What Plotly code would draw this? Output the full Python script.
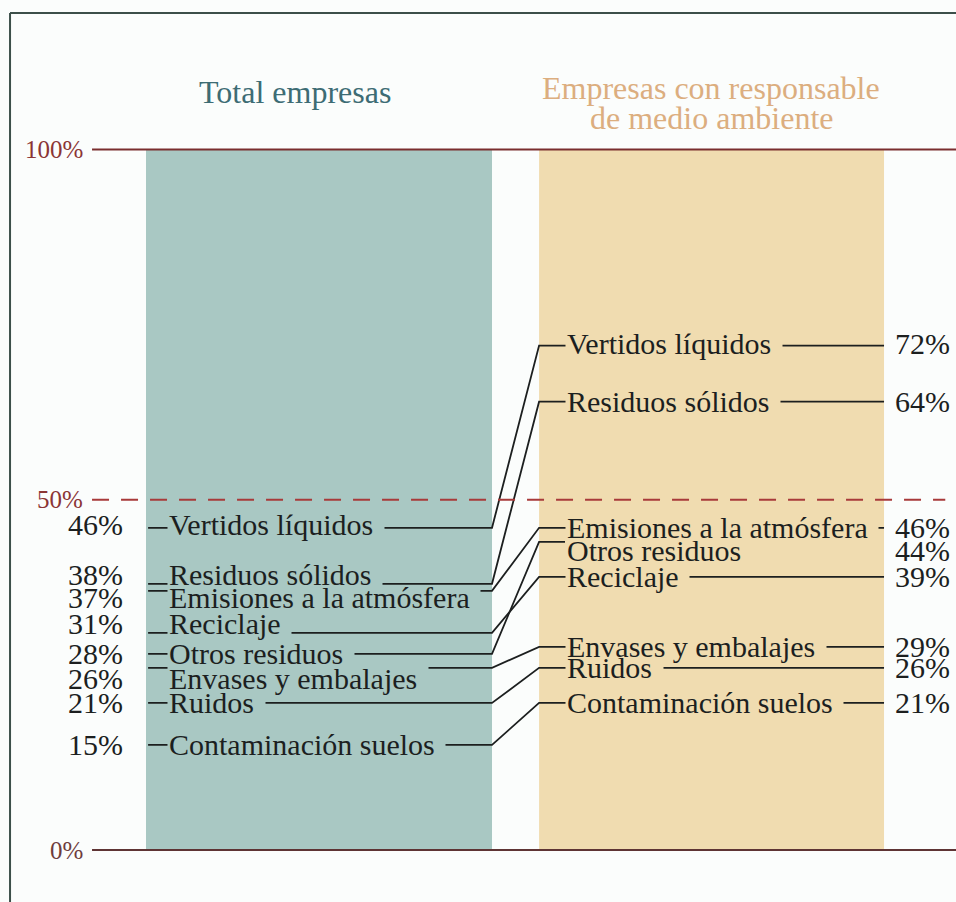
import plotly.graph_objects as go

# datos: % de empresas que actúan sobre cada aspecto ambiental
categorias = ["Vertidos líquidos", "Residuos sólidos", "Emisiones a la atmósfera",
              "Reciclaje", "Otros residuos", "Envases y embalajes", "Ruidos",
              "Contaminación suelos"]
total_empresas = [46, 38, 37, 31, 28, 26, 21, 15]
con_responsable = [72, 64, 46, 39, 44, 29, 26, 21]
columnas = ["Total empresas", "Empresas con responsable de medio ambiente"]
marcas_eje = [0, 50, 100]

# ajustes de maquetacion (solo para que los rotulos no se pisen)
desplaz_izq = [0.4, 1.3, -0.9, 1.4, 0, -1.45, 0, 0]
desplaz_der = [0.3, 0, 0, 0, -1.2, 0, 0, 0]
sin_linea_der = {"Otros residuos"}

SERIF = "Liberation Serif, Times New Roman, serif"
TEAL = "#a9c8c3"
TAN = "#f0dcb0"
FONDO = "#fbfdfc"
TINTA = "#1c1f1f"
ROJO = "#8b3535"

# columnas en unidades del eje x
c1 = (0.0, 1.0)
c2 = (1.136, 2.133)
x_txt_izq = 0.061
x_txt_der = 1.211

fig = go.Figure()

fig.add_trace(go.Bar(
    x=[(c1[0] + c1[1]) / 2, (c2[0] + c2[1]) / 2], y=[100, 100],
    width=[c1[1] - c1[0], c2[1] - c2[0]],
    marker=dict(color=[TEAL, TAN], line_width=0),
    hoverinfo="skip", showlegend=False))

for cat, vi, vd in zip(categorias, total_empresas, con_responsable):
    x_fin = x_txt_der if cat in sin_linea_der else c2[1]
    fig.add_trace(go.Scatter(
        x=[0.006, c1[1], c2[0], x_fin], y=[vi, vi, vd, vd],
        mode="lines", line=dict(color=TINTA, width=1.8),
        hoverinfo="skip", showlegend=False))

shapes = [
    dict(type="line", xref="x", yref="y", x0=-0.156, x1=2.345, y0=100, y1=100,
         line=dict(color="#7a2e2e", width=2)),
    dict(type="line", xref="x", yref="y", x0=-0.156, x1=2.345, y0=0, y1=0,
         line=dict(color="#5e3434", width=2.2)),
    dict(type="line", xref="x", yref="y", x0=-0.156, x1=2.31, y0=50, y1=50,
         line=dict(color="#a83a3a", width=2.2, dash="17px,12px")),
    # marco
    dict(type="line", xref="paper", yref="paper", x0=0.0105, x1=1, y0=1 - 13 / 902, y1=1 - 13 / 902,
         line=dict(color="#3c4f49", width=2)),
    dict(type="line", xref="paper", yref="paper", x0=0.0105, x1=0.0105, y0=0, y1=1 - 13 / 902,
         line=dict(color="#3c4f49", width=2)),
]

anns = []
fuente = dict(family=SERIF, size=30, color=TINTA)
transp = dict(family=SERIF, size=30, color="rgba(0,0,0,0)")

# mascaras para cortar las lineas detras de los rotulos
for cat, vi, vd in zip(categorias, total_empresas, con_responsable):
    anns.append(dict(x=x_txt_izq, y=vi, xref="x", yref="y", text=cat + "\u00a0",
                     font=transp, bgcolor=TEAL, borderpad=2, height=2,
                     xanchor="left", yanchor="middle", showarrow=False))
    anns.append(dict(x=x_txt_der, y=vd, xref="x", yref="y", text=cat + "\u00a0",
                     font=transp, bgcolor=TAN, borderpad=2, height=2,
                     xanchor="left", yanchor="middle", showarrow=False))

for i, (cat, vi, vd) in enumerate(zip(categorias, total_empresas, con_responsable)):
    yi = vi + desplaz_izq[i]
    yd = vd + desplaz_der[i]
    anns.append(dict(x=x_txt_izq, y=yi, text=cat, font=fuente,
                     xanchor="left", yanchor="middle", showarrow=False))
    anns.append(dict(x=-0.061, y=yi, text=f"{vi}%", font=fuente,
                     xanchor="right", yanchor="middle", showarrow=False))
    anns.append(dict(x=x_txt_der, y=yd, text=cat, font=fuente,
                     xanchor="left", yanchor="middle", showarrow=False))
    anns.append(dict(x=2.159, y=yd, text=f"{vd}%", font=fuente,
                     xanchor="left", yanchor="middle", showarrow=False))

for m in marcas_eje:
    anns.append(dict(x=-0.176, y=m, text=f"{m}%",
                     font=dict(family=SERIF, size=25, color=ROJO if m else "#6e3c3c"),
                     xanchor="right", yanchor="middle", showarrow=False))

anns.append(dict(x=0.43, y=108.2, text=columnas[0],
                 font=dict(family=SERIF, size=32, color="#3d6c74"),
                 xanchor="center", yanchor="middle", showarrow=False))
titulo2 = columnas[1].split(" de ")
anns.append(dict(x=1.634, y=108.8, text=titulo2[0],
                 font=dict(family=SERIF, size=32, color="#dcae7f"),
                 xanchor="center", yanchor="middle", showarrow=False))
anns.append(dict(x=1.634, y=104.5, text="de " + titulo2[1],
                 font=dict(family=SERIF, size=32, color="#dcae7f"),
                 xanchor="center", yanchor="middle", showarrow=False))

fig.update_layout(
    width=956, height=902,
    margin=dict(l=0, r=0, t=0, b=0),
    paper_bgcolor=FONDO, plot_bgcolor=FONDO,
    xaxis=dict(range=[-0.422, 2.341], visible=False, fixedrange=True),
    yaxis=dict(range=[-7.42, 121.34], visible=False, fixedrange=True),
    shapes=shapes, annotations=anns, showlegend=False,
)

fig.write_html("out.html", config={"displayModeBar": False},
               post_script="document.body.style.margin='0';")
